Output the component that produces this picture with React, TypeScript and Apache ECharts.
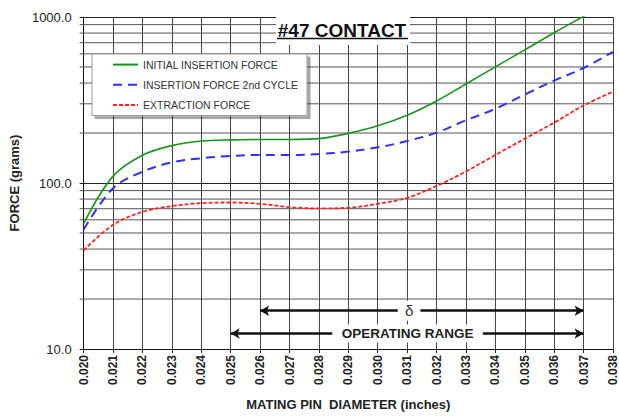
import React, { useEffect, useRef } from "react";
import * as echarts from "echarts";

// Mating pin diameter (inches)
const diameters = [
  0.02, 0.021, 0.022, 0.023, 0.024, 0.025, 0.026, 0.027, 0.028, 0.029, 0.03,
  0.031, 0.032, 0.033, 0.034, 0.035, 0.036, 0.037, 0.038,
];
// Force (grams)
const initialInsertion = [
  57, 110, 147, 168, 179, 182, 183, 183, 185, 199, 221, 256, 312, 395, 501, 634, 804, 1010, 1270,
];
const insertion2ndCycle = [
  52.4, 93, 117, 133, 141, 145.5, 147.6, 147.6, 149.6, 154.6, 164, 179, 201, 238.5, 280, 341, 414, 493, 617,
];
const extraction = [
  39.3, 56, 67, 72.6, 75.6, 76.3, 74.9, 71.6, 70.3, 70.9, 74.9, 81.4, 96, 117.4, 147.6, 185, 231, 293, 355,
];
const minorForceLines = [20, 30, 40, 50, 60, 70, 80, 90, 200, 300, 400, 500, 600, 700, 800, 900];

// Annotation arrows: [start, gapStart, gapEnd, end] along the diameter axis
const deltaArrow = [0.026, 0.03068, 0.03145, 0.037];
const deltaLevel = 17;
const operatingArrow = [0.025, 0.02846, 0.03357, 0.037];
const operatingLevel = 12.4;

const seriesNames = ["INITIAL INSERTION FORCE", "INSERTION FORCE 2nd CYCLE", "EXTRACTION FORCE"];

const FONT = '"Liberation Sans", Arial, sans-serif';

export default function App() {
  const ref = useRef<HTMLDivElement>(null);
  useEffect(() => {
    if (!ref.current) return;
    const chart = echarts.init(ref.current, undefined, { renderer: "svg" });
    const pairs = (vals: number[]) => diameters.map((d, i) => [d, vals[i]]);
    const arrowSegments = (a: number[], level: number) => [
      [
        { coord: [a[0], level], symbol: "arrow" },
        { coord: [a[1], level], symbol: "none" },
      ],
      [
        { coord: [a[2], level], symbol: "none" },
        { coord: [a[3], level], symbol: "arrow" },
      ],
    ];
    const gapLabel = (a: number[], level: number, text: string, w: number, h: number, font: any) => ({
      coord: [(a[1] + a[2]) / 2, level],
      symbol: "rect",
      symbolSize: [w, h],
      itemStyle: { color: "#fff" },
      label: { show: true, position: "inside", formatter: text, fontFamily: FONT, ...font },
    });
    chart.setOption({
      animation: false,
      backgroundColor: "#fff",
      textStyle: { fontFamily: FONT },
      grid: { left: 77, right: 6, top: 17, bottom: 64 },
      legend: {
        data: seriesNames,
        orient: "vertical",
        left: 92,
        top: 54,
        padding: [5, 9, 5, 20],
        itemWidth: 25,
        itemHeight: 14,
        itemGap: 9,
        itemStyle: { opacity: 0 },
        backgroundColor: "#fff",
        borderColor: "#999",
        borderWidth: 1,
        shadowColor: "rgba(0,0,0,0.35)",
        shadowOffsetX: 3,
        shadowOffsetY: 3,
        shadowBlur: 0,
        textStyle: { fontSize: 10.5, color: "#333", fontFamily: FONT },
        selectedMode: false,
      },
      xAxis: {
        type: "value",
        min: 0.02,
        max: 0.038,
        interval: 0.001,
        name: "MATING PIN  DIAMETER (inches)",
        nameLocation: "middle",
        nameGap: 49,
        nameTextStyle: { fontSize: 13, fontWeight: "bold", color: "#222", fontFamily: FONT },
        axisLine: { show: true, lineStyle: { color: "#111", width: 1 } },
        axisTick: { show: true, length: 4, lineStyle: { color: "#222" } },
        axisLabel: {
          rotate: 90,
          fontSize: 12,
          fontWeight: "bold",
          color: "#222",
          margin: 6,
          fontFamily: FONT,
          formatter: (v: number) => v.toFixed(3),
        },
        splitLine: { show: true, lineStyle: { color: "#444", width: 1 } },
      },
      yAxis: {
        type: "log",
        logBase: 10,
        min: 10,
        max: 1000,
        name: "FORCE (grams)",
        nameLocation: "middle",
        nameGap: 48,
        nameTextStyle: { fontSize: 13, fontWeight: "bold", color: "#222", fontFamily: FONT },
        axisLine: { show: true, lineStyle: { color: "#111", width: 1 } },
        axisTick: { show: true, length: 4, lineStyle: { color: "#222" } },
        axisLabel: {
          fontSize: 13,
          color: "#222",
          margin: 12,
          fontFamily: FONT,
          formatter: (v: number) => v.toFixed(1),
        },
        splitLine: { show: true, lineStyle: { color: "#222", width: 1 } },
      },
      graphic: [
        { type: "rect", z: 100, shape: { x: 276, y: 13, width: 134, height: 32 }, style: { fill: "#fff" } },
        {
          type: "text",
          z: 101,
          x: 342,
          y: 30,
          style: {
            text: "#47 CONTACT",
            fontSize: 19,
            fontWeight: "bold",
            fontFamily: FONT,
            fill: "#111",
            align: "center",
            verticalAlign: "middle",
          },
        },
        { type: "line", z: 101, shape: { x1: 277, y1: 38.5, x2: 408, y2: 38.5 }, style: { stroke: "#111", lineWidth: 1.5 } },
      ],
      series: [
        {
          type: "custom",
          name: "minor",
          silent: true,
          z: 1,
          clip: false,
          encode: { x: 0, y: 1 },
          data: minorForceLines.map((v) => [diameters[0], v]),
          renderItem: (params: any, api: any) => {
            const cs = params.coordSys;
            const p = api.coord([api.value(0), api.value(1)]);
            return {
              type: "line",
              shape: { x1: cs.x - 4, y1: p[1], x2: cs.x + cs.width, y2: p[1] },
              style: { stroke: "#555", lineWidth: 1 },
            };
          },
        },
        {
          name: seriesNames[0],
          type: "line",
          data: pairs(initialInsertion),
          smooth: 0.35,
          symbol: "none",
          z: 3,
          lineStyle: { color: "#1a941a", width: 1.6, type: "solid" },
          itemStyle: { color: "#1a941a" },
        },
        {
          name: seriesNames[1],
          type: "line",
          data: pairs(insertion2ndCycle),
          smooth: 0.35,
          symbol: "none",
          z: 3,
          lineStyle: { color: "#2f2fff", width: 2, type: [9, 6] },
          itemStyle: { color: "#2f2fff" },
        },
        {
          name: seriesNames[2],
          type: "line",
          data: pairs(extraction),
          smooth: 0.35,
          symbol: "none",
          z: 3,
          lineStyle: { color: "#ff2020", width: 1.8, type: [4, 2] },
          itemStyle: { color: "#ff2020" },
          markLine: {
            silent: true,
            z: 5,
            symbolSize: [8, 9],
            lineStyle: { color: "#111", width: 2.5, type: "solid" },
            label: { show: false },
            emphasis: { disabled: true },
            data: [...arrowSegments(deltaArrow, deltaLevel), ...arrowSegments(operatingArrow, operatingLevel)],
          },
          markPoint: {
            silent: true,
            z: 10,
            data: [
              gapLabel(deltaArrow, deltaLevel, "δ", 22, 20, { color: "#333", fontSize: 15 }),
              gapLabel(operatingArrow, operatingLevel, "OPERATING RANGE", 150, 18, {
                color: "#222",
                fontSize: 13.5,
                fontWeight: "bold",
              }),
            ],
          },
        },
      ],
    });
    return () => chart.dispose();
  }, []);
  return (
    <div
      ref={ref}
      style={{ position: "fixed", left: 0, top: 0, width: 619, height: 416, background: "#fff" }}
    />
  );
}
